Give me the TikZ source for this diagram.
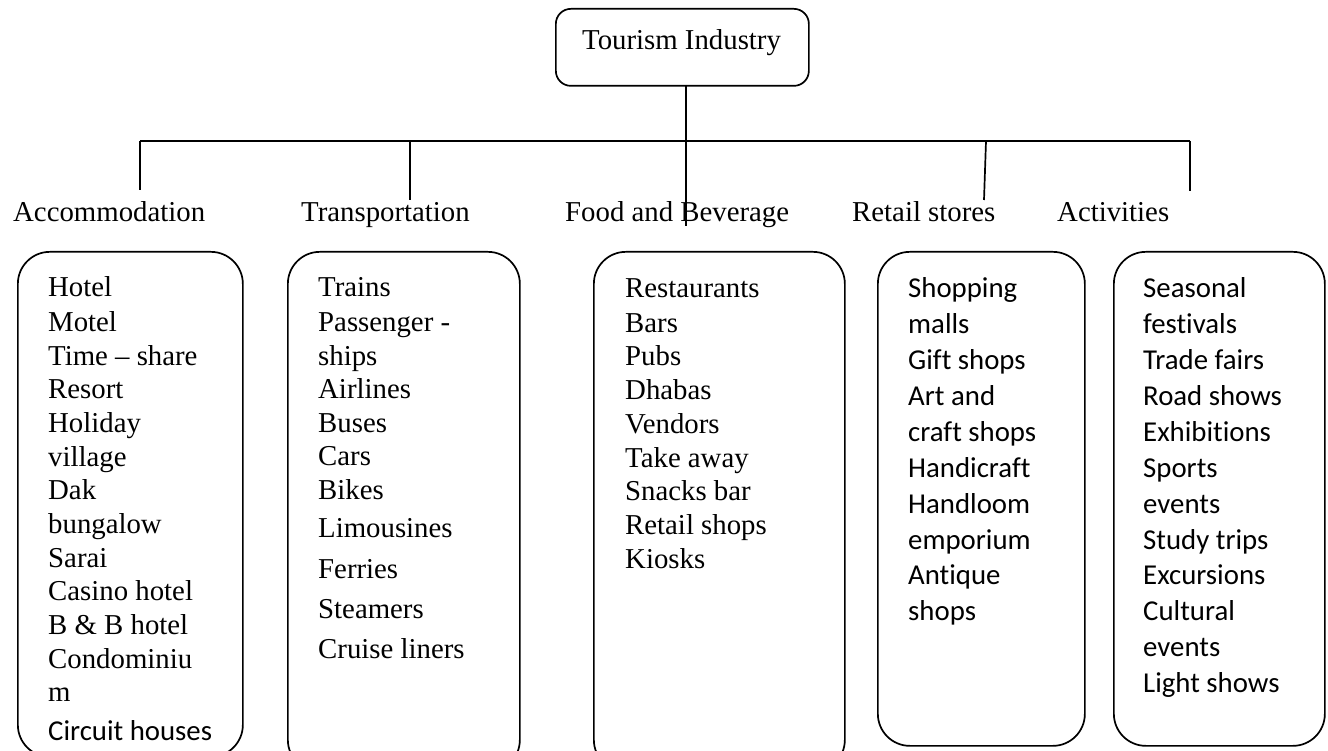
\documentclass[tikz,border=0pt]{standalone}
\usepackage{fontspec}
\setmainfont{Liberation Serif}
\newfontfamily\calfont[Ligatures=NoCommon]{Carlito}
\begin{document}
\begin{tikzpicture}[x=1pt,y=-1pt,
  conn/.style={line width=1.7pt},
  listbox/.style={draw, line width=1.7pt, rounded corners=32pt, anchor=north west, inner sep=0pt},
  item/.style={anchor=base west, inner sep=0pt, font=\fontsize{28.8}{34}\selectfont},
  citem/.style={anchor=base west, inner sep=0pt, font=\calfont\fontsize{28.8}{34}\selectfont},
  ]
\useasboundingbox (0,0) rectangle (1328,751);
% top node
\node[draw, line width=1.7pt, rounded corners=15pt, minimum width=253pt, minimum height=77pt, anchor=north west, inner sep=0pt] (top) at (555,8) {};
\node[item] (toptext) at (582,50) {Tourism Industry};
% category labels
\node[item] (L1) at (13,222) {Accommodation};
\node[item] (L2) at (301,222) {Transportation};
\node[item] (L3) at (565,222) {Food and Beverage};
\node[item] (L4) at (852,222) {Retail stores};
\node[item] (L5) at (1057,222) {Activities};
% bus and drops
\coordinate (t) at (686,85);
\coordinate (bus) at (686,141);
\coordinate (d1) at (140,141); \coordinate (e1) at (140,190);
\coordinate (d2) at (410,141); \coordinate (e2) at (410,200);
\coordinate (d3) at (686,141); \coordinate (e3) at (686,226);
\coordinate (d4) at (986,141); \coordinate (e4) at (984,200);
\coordinate (d5) at (1190,141); \coordinate (e5) at (1190,191);
\draw[conn] (t) -- (bus);
\draw[conn] (d1) -- (d5);
\draw[conn] (d1) -- (e1);
\draw[conn] (d2) -- (e2);
\draw[conn] (d3) -- (e3);
\draw[conn] (d4) -- (e4);
\draw[conn] (d5) -- (e5);
\begin{scope}
\clip (0,0) rectangle (1328,751);
\node[listbox, minimum width=225pt, minimum height=505pt] (B1) at (17,251) {};
\node[listbox, minimum width=232pt, minimum height=520pt] (B2) at (287,251) {};
\node[listbox, minimum width=251pt, minimum height=520pt] (B3) at (593,251) {};
\node[listbox, minimum width=207pt, minimum height=494pt] (B4) at (877,251) {};
\node[listbox, minimum width=211pt, minimum height=494pt] (B5) at (1113,251) {};
\foreach \y/\t [count=\i] in {297/Hotel, 331/Motel, 365/Time – share, 398/Resort, 432/Holiday, 466/village, 499/Dak, 533/bungalow, 567/Sarai, 600/Casino hotel, 634/B \& B hotel, 668/Condominiu, 701/m}
  {\node[item] (a\i) at (48,\y) {\t};}
\node[citem] (a14) at (48,740) {Circuit houses};
\foreach \y/\t [count=\i] in {297/Trains, 331/Passenger -, 365/ships, 398/Airlines, 432/Buses, 465/Cars, 499/Bikes, 537/Limousines, 578/Ferries, 618/Steamers, 658/Cruise liners}
  {\node[item] (b\i) at (318,\y) {\t};}
\foreach \y/\t [count=\i] in {298/Restaurants, 332/Bars, 365/Pubs, 399/Dhabas, 433/Vendors, 467/Take away, 500/Snacks bar, 534/Retail shops, 568/Kiosks}
  {\node[item] (c\i) at (625,\y) {\t};}
\foreach \y/\t [count=\i] in {298/Shopping, 334/malls, 370/Gift shops, 405/Art and, 441/craft shops, 477/Handicraft, 513/Handloom, 549/emporium, 584/Antique, 620/shops}
  {\node[citem] (r\i) at (908,\y) {\t};}
\foreach \y/\t [count=\i] in {298/Seasonal, 334/festivals, 370/Trade fairs, 405/Road shows, 441/Exhibitions, 477/Sports, 513/events, 549/Study trips, 584/Excursions, 620/Cultural, 656/events, 692/Light shows}
  {\node[citem] (s\i) at (1143,\y) {\t};}
\end{scope}
\end{tikzpicture}
\end{document}
